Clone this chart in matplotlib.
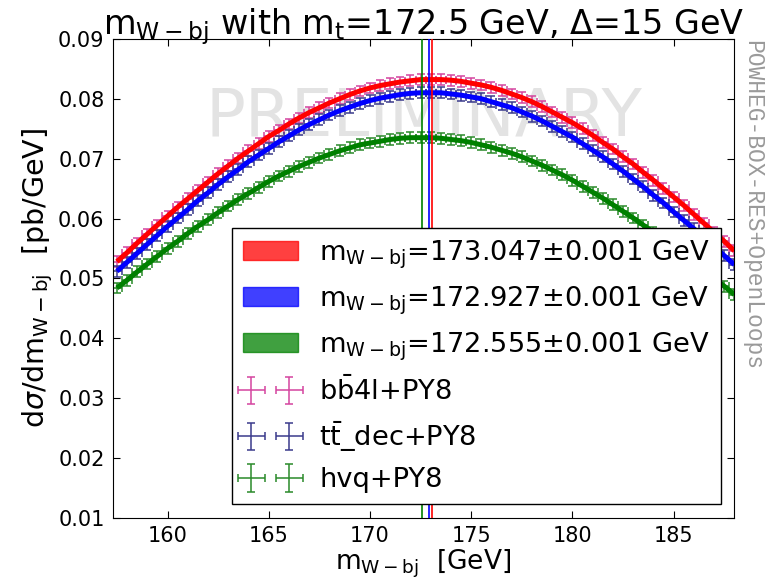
import numpy as np
import matplotlib
matplotlib.use("Agg")
import matplotlib.pyplot as plt
from matplotlib.patches import Patch

# bin centres [GeV], 0.5 GeV bins
m_wbj = np.arange(157.5, 188.01, 0.5)

# dsigma/dm [pb/GeV] per generator
bb4l = [0.0528, 0.0543, 0.0559, 0.0574, 0.0589, 0.0604, 0.0619, 0.0633, 0.0647, 0.0661,
        0.0675, 0.0688, 0.0701, 0.0713, 0.0725, 0.0737, 0.0747, 0.0758, 0.0768, 0.0777,
        0.0785, 0.0793, 0.0800, 0.0807, 0.0813, 0.0818, 0.0822, 0.0825, 0.0828, 0.0830,
        0.0832, 0.0832, 0.0832, 0.0831, 0.0829, 0.0826, 0.0823, 0.0819, 0.0814, 0.0808,
        0.0802, 0.0795, 0.0787, 0.0778, 0.0769, 0.0760, 0.0750, 0.0739, 0.0727, 0.0716,
        0.0703, 0.0691, 0.0677, 0.0664, 0.0650, 0.0636, 0.0622, 0.0607, 0.0592, 0.0577,
        0.0562, 0.0546]
ttdec = [0.0512, 0.0527, 0.0542, 0.0557, 0.0572, 0.0587, 0.0601, 0.0615, 0.0630, 0.0643,
         0.0657, 0.0670, 0.0682, 0.0695, 0.0706, 0.0717, 0.0728, 0.0738, 0.0748, 0.0757,
         0.0765, 0.0773, 0.0780, 0.0786, 0.0792, 0.0797, 0.0801, 0.0804, 0.0807, 0.0809,
         0.0810, 0.0810, 0.0810, 0.0808, 0.0806, 0.0803, 0.0800, 0.0795, 0.0790, 0.0785,
         0.0778, 0.0771, 0.0763, 0.0754, 0.0745, 0.0736, 0.0725, 0.0714, 0.0703, 0.0691,
         0.0679, 0.0666, 0.0653, 0.0639, 0.0626, 0.0611, 0.0597, 0.0583, 0.0568, 0.0553,
         0.0538, 0.0523]
hvq = [0.0484, 0.0497, 0.0511, 0.0524, 0.0537, 0.0550, 0.0562, 0.0575, 0.0587, 0.0598,
       0.0610, 0.0621, 0.0632, 0.0642, 0.0652, 0.0662, 0.0671, 0.0679, 0.0687, 0.0694,
       0.0701, 0.0707, 0.0713, 0.0718, 0.0723, 0.0726, 0.0729, 0.0732, 0.0734, 0.0735,
       0.0735, 0.0735, 0.0734, 0.0732, 0.0730, 0.0727, 0.0723, 0.0719, 0.0714, 0.0709,
       0.0703, 0.0696, 0.0689, 0.0681, 0.0673, 0.0664, 0.0654, 0.0644, 0.0634, 0.0623,
       0.0612, 0.0601, 0.0589, 0.0577, 0.0565, 0.0552, 0.0540, 0.0527, 0.0513, 0.0500,
       0.0487, 0.0473]
stat_err = 0.0009

# fitted peak positions [GeV]
peak_bb4l = 173.047
peak_ttdec = 172.927
peak_hvq = 172.555
peak_err = 0.001

mw = r'$\mathrm{m_{W-bj}}$'

fig = plt.figure(figsize=(7.73, 5.8), dpi=100)
ax = fig.add_axes([0.146, 0.107, 0.804, 0.826])

ax.text(0.5, 0.835, 'PRELIMINARY', transform=ax.transAxes, ha='center', va='center',
        fontsize=47.5, color='#e3e3e3', zorder=0)

series = [
    (bb4l, peak_bb4l, 'red', '#d4449f', r'b$\bar{\mathrm{b}}$4l+PY8'),
    (ttdec, peak_ttdec, 'blue', '#3a3a8c', r't$\bar{\mathrm{t}}$_dec+PY8'),
    (hvq, peak_hvq, 'green', '#2a8a2a', 'hvq+PY8'),
]

fit_handles = []
data_handles = []
for vals, peak, col, ecol, lab in series:
    eb = ax.errorbar(m_wbj, vals, xerr=0.25, yerr=stat_err, fmt='none', ecolor=ecol,
                     elinewidth=1.1, capsize=3, capthick=1.1, label=lab, zorder=2)
    ax.plot(m_wbj, vals, color=col, lw=3.6, zorder=3, solid_capstyle='butt')
    ax.axvline(peak, color=col, lw=1.2, zorder=4)
    fit_handles.append(Patch(facecolor=col, edgecolor=col, alpha=0.75,
                             label=mw + '=%.3f$\\pm$%.3f GeV' % (peak, peak_err)))
    data_handles.append(eb)

ax.set_xlim(157.3, 188.0)
ax.set_ylim(0.01, 0.09)
ax.set_xticks([160, 165, 170, 175, 180, 185])
ax.set_yticks([0.01, 0.02, 0.03, 0.04, 0.05, 0.06, 0.07, 0.08, 0.09])
ax.tick_params(direction='in', top=True, right=True, length=5, labelsize=15, pad=6)

ax.set_xlabel(mw + '  [GeV]', fontsize=19, labelpad=1)
ax.set_ylabel(r'd$\sigma$/d' + mw + '  [pb/GeV]', fontsize=20.5, labelpad=2)
ax.set_title(mw + r' with $\mathrm{m_t}$=172.5 GeV, $\Delta$=15 GeV', fontsize=24, pad=3)

leg = ax.legend(handles=fit_handles + data_handles, loc='lower right', fontsize=19.6,
                numpoints=2, fancybox=False, framealpha=1, edgecolor='black',
                handlelength=2.0, labelspacing=0.5, borderaxespad=0.5)
leg.get_frame().set_linewidth(1.0)

fig.text(0.973, 0.931, 'POWHEG-BOX-RES+OpenLoops', rotation=270, ha='center', va='top',
         fontsize=16.6, color='#9a9a9a', family='Liberation Mono')

fig.savefig('out.png', dpi=100)
